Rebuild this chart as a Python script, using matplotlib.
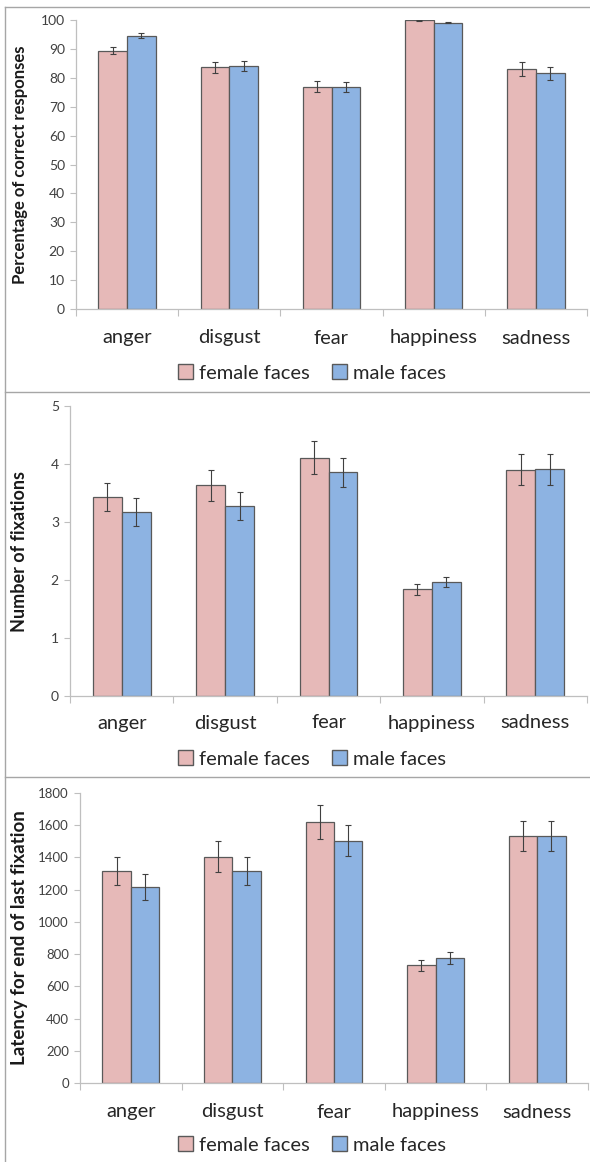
import numpy as np
import matplotlib.pyplot as plt
from matplotlib.patches import Patch
from matplotlib.lines import Line2D

plt.rcParams['font.family'] = ['Lato', 'DejaVu Sans']

categories = ['anger', 'disgust', 'fear', 'happiness', 'sadness']

# panel 1: percentage of correct responses
correct_female = [89.4, 83.6, 76.9, 99.9, 83.0]
correct_female_err = [1.2, 1.8, 1.9, 0.2, 2.3]
correct_male = [94.6, 84.0, 76.7, 99.1, 81.5]
correct_male_err = [0.9, 1.7, 1.7, 0.3, 2.3]

# panel 2: number of fixations
fix_female = [3.43, 3.63, 4.11, 1.84, 3.90]
fix_female_err = [0.24, 0.27, 0.28, 0.09, 0.27]
fix_male = [3.17, 3.27, 3.86, 1.97, 3.91]
fix_male_err = [0.24, 0.24, 0.25, 0.09, 0.27]

# panel 3: latency for end of last fixation
lat_female = [1316, 1403, 1618, 730, 1531]
lat_female_err = [84, 96, 105, 34, 93]
lat_male = [1217, 1314, 1504, 776, 1531]
lat_male_err = [80, 87, 98, 35, 93]

pink = '#E6B9B8'
blue = '#8DB3E2'
edge = '#595959'
axis_grey = '#BFBFBF'

W, H = 590, 1162
fig = plt.figure(figsize=(W / 100, H / 100), dpi=100)

panels = [
    dict(rect=[76, 20, 587, 309], f=correct_female, fe=correct_female_err,
         m=correct_male, me=correct_male_err, ylim=(0, 100), yt=np.arange(0, 101, 10),
         ylabel='Percentage of correct responses', cat_y=338, leg_y=373, yfs=10, lfs=12),
    dict(rect=[70, 406, 587, 696], f=fix_female, fe=fix_female_err,
         m=fix_male, me=fix_male_err, ylim=(0, 5), yt=np.arange(0, 6, 1),
         ylabel='Number of fixations', cat_y=723, leg_y=759, yfs=10, lfs=13),
    dict(rect=[80, 793, 588, 1083], f=lat_female, fe=lat_female_err,
         m=lat_male, me=lat_male_err, ylim=(0, 1800), yt=np.arange(0, 1801, 200),
         ylabel='Latency for end of last fixation', cat_y=1112, leg_y=1145, yfs=9.5, lfs=13.5),
]

x = np.arange(len(categories))
bw = 0.28

for p in panels:
    l, t, r, b = p['rect']
    ax = fig.add_axes([l / W, 1 - b / H, (r - l) / W, (b - t) / H])
    ax.bar(x - bw / 2, p['f'], bw, color=pink, edgecolor=edge, linewidth=0.9)
    ax.bar(x + bw / 2, p['m'], bw, color=blue, edgecolor=edge, linewidth=0.9)
    ax.errorbar(x - bw / 2, p['f'], yerr=p['fe'], fmt='none', ecolor='#404040',
                elinewidth=0.8, capsize=2, capthick=0.8)
    ax.errorbar(x + bw / 2, p['m'], yerr=p['me'], fmt='none', ecolor='#404040',
                elinewidth=0.8, capsize=2, capthick=0.8)
    ax.set_xlim(-0.5, len(categories) - 0.5)
    ax.set_ylim(*p['ylim'])
    ax.set_yticks(p['yt'])
    ax.tick_params(axis='y', labelsize=p['yfs'], colors='#404040', length=4,
                   width=0.8, color=axis_grey, pad=4)
    ax.set_xticks(np.arange(len(categories) + 1) - 0.5)
    ax.set_xticklabels([])
    ax.tick_params(axis='x', length=5, width=0.8, color=axis_grey)
    for s in ['top', 'right']:
        ax.spines[s].set_visible(False)
    for s in ['left', 'bottom']:
        ax.spines[s].set_color(axis_grey)
        ax.spines[s].set_linewidth(0.9)
    ax.set_ylabel(p['ylabel'], fontsize=p['lfs'], fontweight='bold', color='#1a1a1a')
    ax.yaxis.set_label_coords(-(l - 28) / (r - l), 0.5)
    for i, c in enumerate(categories):
        ax.text(i, -(p['cat_y'] - b) / (b - t) * p['ylim'][1], c, ha='center',
                va='center', fontsize=14.5, color='#262626')
    handles = [Patch(facecolor=pink, edgecolor=edge, label='female faces'),
               Patch(facecolor=blue, edgecolor=edge, label='male faces')]
    fig.legend(handles=handles, loc='center', bbox_to_anchor=(312 / W, 1 - p['leg_y'] / H),
               ncol=2, frameon=False, fontsize=14.5, handlelength=0.75, handleheight=0.75,
               handletextpad=0.3, columnspacing=1.1, labelcolor='#262626')

# panel frames
frame = '#A6A6A6'
for yy in [7, 392, 777]:
    fig.add_artist(Line2D([5 / W, 1], [1 - yy / H, 1 - yy / H], color=frame, lw=1))
fig.add_artist(Line2D([5 / W, 5 / W], [0, 1 - 7 / H], color=frame, lw=1))

fig.savefig('out.png', dpi=100)
